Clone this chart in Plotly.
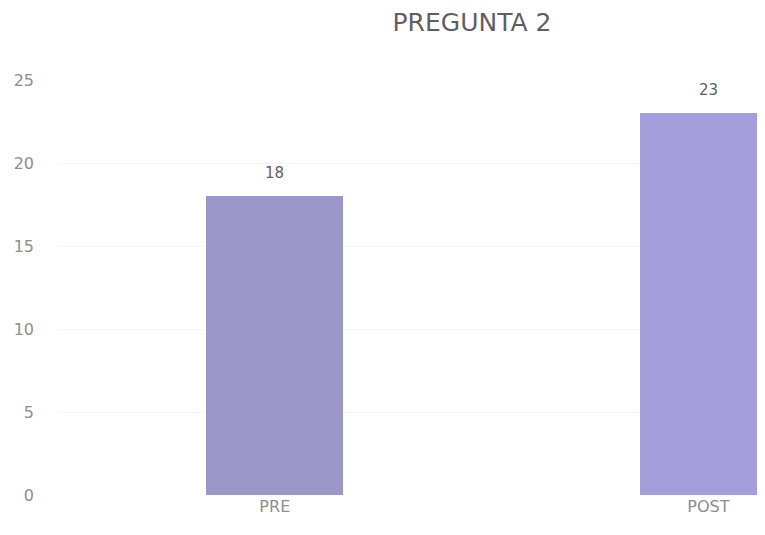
import plotly.graph_objects as go

categories = ["PRE", "POST"]
values = [18, 23]
bar_colors = ["#9c97c9", "#a49fdc"]
y_ticks = [0, 5, 10, 15, 20, 25]

FONT = "DejaVu Sans, Open Sans, sans-serif"

fig = go.Figure(
    go.Bar(
        x=categories,
        y=values,
        marker=dict(color=bar_colors, line=dict(width=0)),
        width=0.316,
        cliponaxis=False,
    )
)

for c, v in zip(categories, values):
    fig.add_annotation(
        x=c, y=v, text=str(v), showarrow=False,
        yanchor="bottom", yshift=12,
        font=dict(family=FONT, size=15, color="#5f5f5f"),
    )

# page body has an 8px margin, so the figure is sized/placed to compensate
fig.update_layout(
    width=765,
    height=519,
    margin=dict(l=50, r=0, t=72, b=32),
    paper_bgcolor="white",
    plot_bgcolor="white",
    showlegend=False,
    title=dict(
        text="PREGUNTA 2",
        x=464 / 765,
        xanchor="center",
        y=1 - 14 / 519,
        yanchor="middle",
        font=dict(family=FONT, size=25, color="#5f5f5f"),
    ),
    xaxis=dict(
        range=[-0.5, 1.149],
        showgrid=False,
        showline=False,
        zeroline=False,
        ticks="",
        tickfont=dict(family=FONT, size=16, color="#8e8e8e"),
    ),
    yaxis=dict(
        range=[0, 25],
        tickvals=y_ticks,
        showgrid=True,
        gridcolor="#f5f5f5",
        zeroline=False,
        showline=False,
        ticks="",
        ticklabelstandoff=23,
        tickfont=dict(family=FONT, size=16, color="#8e8e8e"),
    ),
    bargap=0,
)

fig.write_html("out.html")
